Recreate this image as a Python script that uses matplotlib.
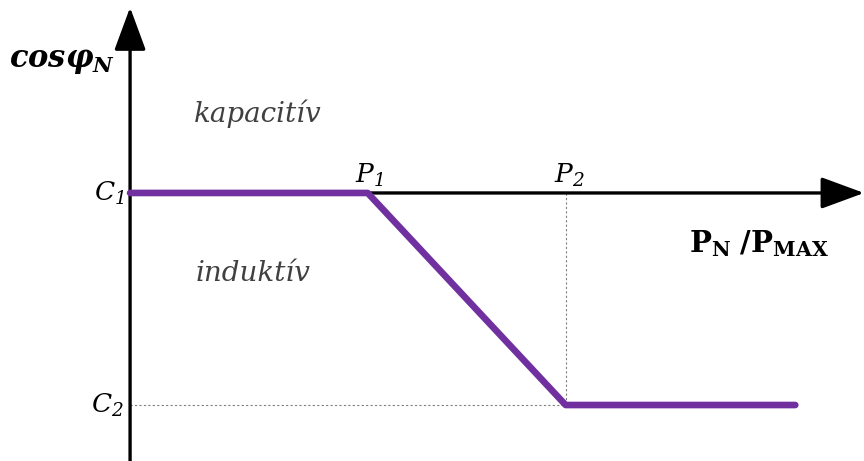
import matplotlib.pyplot as plt

plt.rcParams['mathtext.fontset'] = 'custom'
plt.rcParams['mathtext.it'] = 'DejaVu Serif:italic'
plt.rcParams['mathtext.rm'] = 'DejaVu Serif:italic'
plt.rcParams['mathtext.bf'] = 'DejaVu Serif:bold'
plt.rcParams['mathtext.sf'] = 'DejaVu Serif:italic:bold'

# characteristic: cos(phi) vs P/Pmax (schematic units)
x_pts = [0.0, 1.2, 2.2, 3.36]
y_pts = [1.0, 1.0, 0.0, 0.0]
p_labels = [r'$P_1$', r'$P_2$']
c_labels = [r'$C_1$', r'$C_2$']
region_labels = ['kapacitív', 'induktív']

purple = '#7030A0'
fig = plt.figure(figsize=(8.64, 4.61), dpi=100)
ax = fig.add_axes([0, 0, 1, 1])
ax.set_xlim(-0.657, 3.707)
ax.set_ylim(-0.264, 1.91)
ax.axis('off')

# axes with arrows
head = '-|>,head_length=1.9,head_width=0.7'
ax.annotate('', xy=(3.707, 1.0), xytext=(0.0, 1.0),
            arrowprops=dict(arrowstyle=head, mutation_scale=14, lw=2.4,
                            color='black', shrinkA=0, shrinkB=0))
ax.annotate('', xy=(0.0, 1.875), xytext=(0.0, -0.264),
            arrowprops=dict(arrowstyle=head, mutation_scale=14, lw=2.4,
                            color='black', shrinkA=0, shrinkB=0))

# helper dotted lines
ax.plot([x_pts[2], x_pts[2]], [y_pts[0], y_pts[2]], ls=(0, (2, 2)), lw=0.8, color='#808080')
ax.plot([0.0, x_pts[2]], [y_pts[2], y_pts[2]], ls=(0, (2, 2)), lw=0.8, color='#808080')

# characteristic line
ax.plot(x_pts, y_pts, color=purple, lw=4.8, solid_capstyle='round',
        solid_joinstyle='round', zorder=5)

lbl = dict(fontsize=19, color='black')
ax.text(-0.03, y_pts[0], c_labels[0], ha='right', va='center', **lbl)
ax.text(-0.03, y_pts[2], c_labels[1], ha='right', va='center', **lbl)
ax.text(x_pts[1] + 0.01, 1.02, p_labels[0], ha='center', va='bottom', **lbl)
ax.text(x_pts[2] + 0.02, 1.02, p_labels[1], ha='center', va='bottom', **lbl)

reg = dict(family='DejaVu Serif', style='italic', fontsize=20, color='#404040')
ax.text(0.32, 1.375, region_labels[0], ha='left', va='center', **reg)
ax.text(0.33, 0.62, region_labels[1], ha='left', va='center', **reg)

ax.text(-0.61, 1.62, r'$\mathsf{cos\varphi_N}$', ha='left', va='center', fontsize=22)
ax.text(3.53, 0.76, r'$\mathbf{P_N\ /P_{MAX}}$', ha='right', va='center', fontsize=21)

fig.savefig('out.png', dpi=100)
